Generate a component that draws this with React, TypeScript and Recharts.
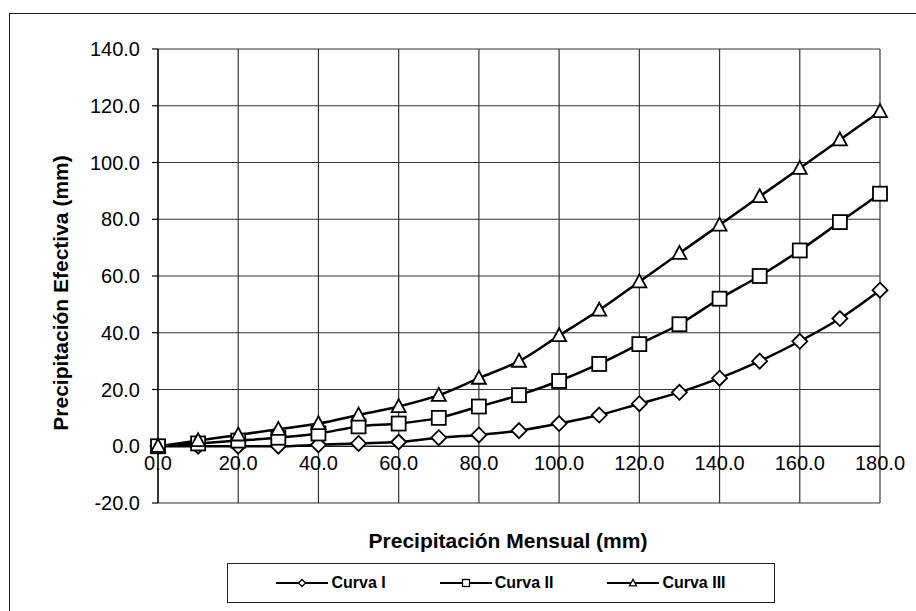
import React from "react";
import {
  LineChart,
  Line,
  XAxis,
  YAxis,
  CartesianGrid,
  Legend,
  ReferenceLine,
} from "recharts";

// Precipitación mensual (mm) en el eje X
const precipMensual = [0, 10, 20, 30, 40, 50, 60, 70, 80, 90, 100, 110, 120, 130, 140, 150, 160, 170, 180];
// Precipitación efectiva (mm) por curva
const curvaI = [0, 0, 0, 0, 0.5, 1, 1.5, 3, 4, 5.5, 8, 11, 15, 19, 24, 30, 37, 45, 55];
const curvaII = [0, 1, 2, 3, 4.5, 7, 8, 10, 14, 18, 23, 29, 36, 43, 52, 60, 69, 79, 89];
const curvaIII = [0, 2, 4, 6, 8, 11, 14, 18, 24, 30, 39, 48, 58, 68, 78, 88, 98, 108, 118];

const xTicks = [0, 20, 40, 60, 80, 100, 120, 140, 160, 180];
const yTicks = [-20, 0, 20, 40, 60, 80, 100, 120, 140];

const data = precipMensual.map((p, i) => ({
  p,
  c1: curvaI[i],
  c2: curvaII[i],
  c3: curvaIII[i],
}));

const FONT = '"Liberation Sans", Arial, sans-serif';

type Shape = "diamond" | "square" | "triangle";

function Marker({ cx, cy, shape, r, sw }: { cx: number; cy: number; shape: Shape; r: number; sw: number }) {
  if (cx == null || cy == null) return null;
  if (shape === "diamond") {
    const pts = `${cx},${cy - r} ${cx + r},${cy} ${cx},${cy + r} ${cx - r},${cy}`;
    return <polygon points={pts} fill="#fff" stroke="#000" strokeWidth={sw} />;
  }
  if (shape === "square") {
    return <rect x={cx - r} y={cy - r} width={r * 2} height={r * 2} fill="#fff" stroke="#000" strokeWidth={sw} />;
  }
  const pts = `${cx},${cy - r * 1.05} ${cx + r},${cy + r * 0.8} ${cx - r},${cy + r * 0.8}`;
  return <polygon points={pts} fill="#fff" stroke="#000" strokeWidth={sw} />;
}

const shapeOf: Record<string, Shape> = { c1: "diamond", c2: "square", c3: "triangle" };

const dotFor = (shape: Shape) => (props: any) => (
  <Marker key={`${shape}-${props.index}`} cx={props.cx} cy={props.cy} shape={shape} r={shape === "diamond" ? 7.5 : 7} sw={1.8} />
);

function XTick({ x, y, payload }: any) {
  return (
    <text x={x} y={y - 33} textAnchor="middle" fontSize={20} fontFamily={FONT} fill="#000">
      {Number(payload.value).toFixed(1)}
    </text>
  );
}

function XTitle({ viewBox }: any) {
  const cx = viewBox.x + viewBox.width / 2 - 11;
  return (
    <text x={cx} y={viewBox.y + 45} textAnchor="middle" fontSize={21} fontWeight="bold" fontFamily={FONT} fill="#000">
      Precipitación Mensual (mm)
    </text>
  );
}

function YTitle({ viewBox }: any) {
  const cx = viewBox.x + 60;
  const cy = viewBox.y + viewBox.height / 2 + 17;
  return (
    <text
      x={cx}
      y={cy}
      transform={`rotate(-90 ${cx} ${cy})`}
      textAnchor="middle"
      dominantBaseline="central"
      fontSize={21}
      fontWeight="bold"
      fontFamily={FONT}
      fill="#000"
    >
      Precipitación Efectiva (mm)
    </text>
  );
}

function LegendBox({ payload }: any) {
  return (
    <div
      style={{
        boxSizing: "border-box",
        width: "100%",
        height: "100%",
        border: "1px solid #222",
        background: "#fff",
        display: "flex",
        alignItems: "center",
        justifyContent: "center",
        gap: 54,
        fontFamily: FONT,
      }}
    >
      {(payload || []).map((item: any) => (
        <div key={item.dataKey} style={{ display: "flex", alignItems: "center" }}>
          <svg width={52} height={12}>
            <line x1={0} y1={6} x2={52} y2={6} stroke="#000" strokeWidth={2.2} />
            <Marker cx={26} cy={6} shape={shapeOf[item.dataKey]} r={3.5} sw={1.3} />
          </svg>
          <span style={{ marginLeft: 3, fontSize: 16, fontWeight: "bold", color: "#000" }}>{item.value}</span>
        </div>
      ))}
    </div>
  );
}

export default function App() {
  return (
    <div style={{ position: "absolute", left: 0, top: 0, width: 916, height: 611, overflow: "hidden", background: "#fff" }}>
      <div
        style={{
          position: "absolute",
          left: 9,
          top: 13,
          width: 1000,
          height: 700,
          border: "1px solid #222",
        }}
      />
      <div style={{ position: "absolute", left: 0, top: 0 }}>
        <LineChart width={916} height={611} data={data} margin={{ top: 49, right: 36, bottom: 0, left: 0 }}>
          <CartesianGrid stroke="#333" strokeWidth={1.2} />
          <XAxis
            type="number"
            dataKey="p"
            domain={[0, 180]}
            ticks={xTicks}
            interval={0}
            axisLine={false}
            tickLine={false}
            tickSize={0}
            tickMargin={0}
            height={108}
            tick={<XTick />}
            label={<XTitle />}
          />
          <YAxis
            type="number"
            domain={[-20, 140]}
            ticks={yTicks}
            interval={0}
            width={158}
            tickSize={6}
            tickMargin={12}
            axisLine={{ stroke: "#000", strokeWidth: 1.2 }}
            tickLine={{ stroke: "#000", strokeWidth: 1.2 }}
            tick={{ fontSize: 20, fill: "#000", fontFamily: FONT }}
            tickFormatter={(v: number) => v.toFixed(1)}
            label={<YTitle />}
          />
          <ReferenceLine y={0} stroke="#000" strokeWidth={1.2} />
          <Legend
            verticalAlign="middle"
            align="center"
            layout="horizontal"
            wrapperStyle={{ left: 227, top: 563, width: 548, height: 40 }}
            content={<LegendBox />}
          />
          <Line type="monotone" dataKey="c1" name="Curva I" stroke="#000" strokeWidth={2.5} dot={dotFor("diamond")} activeDot={false} isAnimationActive={false} />
          <Line type="monotone" dataKey="c2" name="Curva II" stroke="#000" strokeWidth={2.5} dot={dotFor("square")} activeDot={false} isAnimationActive={false} />
          <Line type="monotone" dataKey="c3" name="Curva III" stroke="#000" strokeWidth={2.5} dot={dotFor("triangle")} activeDot={false} isAnimationActive={false} />
        </LineChart>
      </div>
    </div>
  );
}
